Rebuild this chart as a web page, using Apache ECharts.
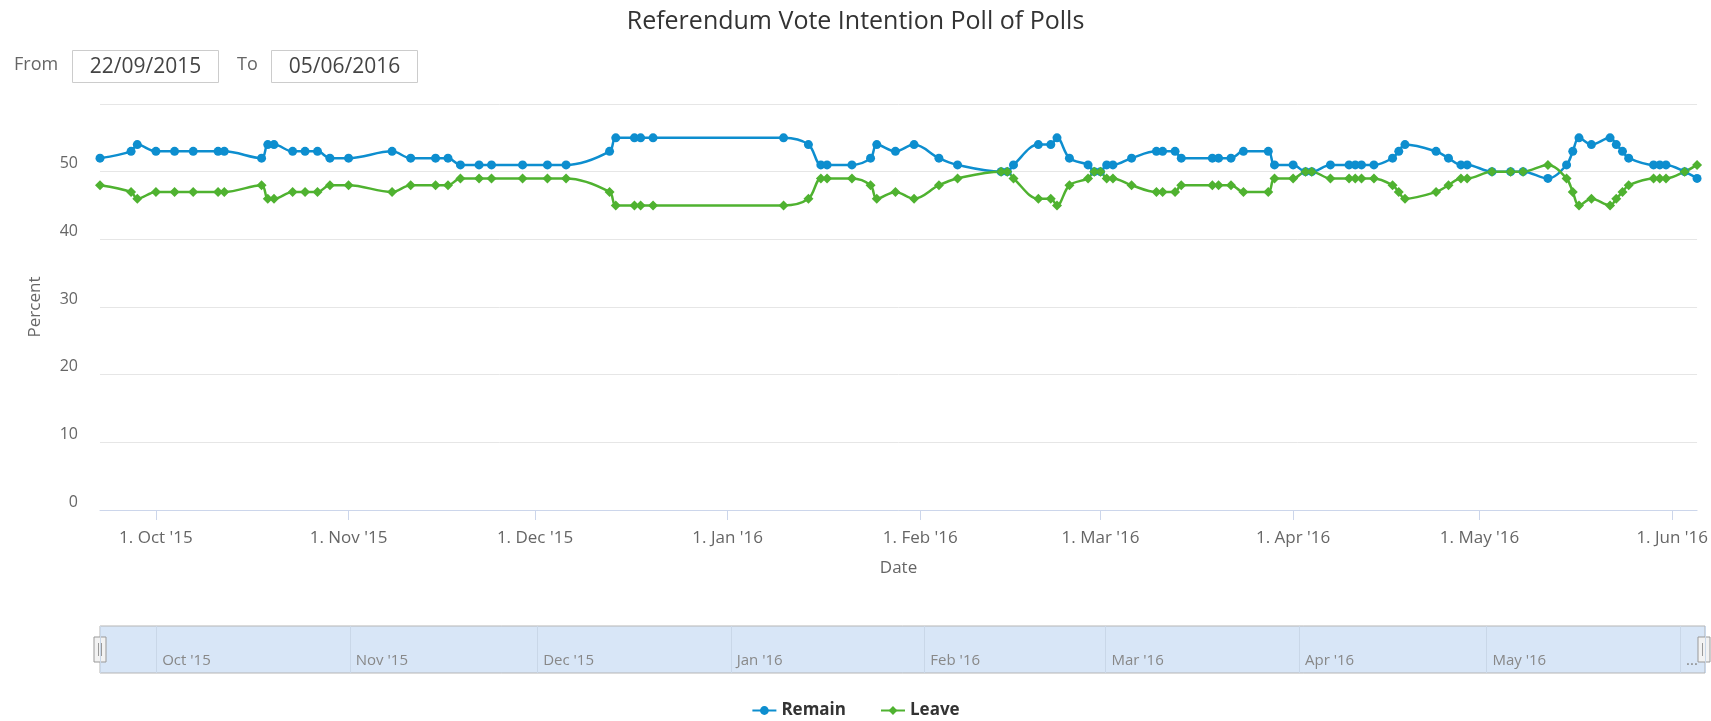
<!DOCTYPE html>
<html>
<head>
<meta charset="utf-8">
<title>Referendum Vote Intention Poll of Polls</title>
<script src="https://cdn.jsdelivr.net/npm/echarts@6.0.0/dist/echarts.min.js"></script>
<style>
  html, body { margin: 0; padding: 0; background: #fff; }
  #chart { width: 1711px; height: 721px; }
</style>
</head>
<body>
<div id="chart"></div>
<script>
// poll dates (one poll of polls reading per date)
const pollDates = [
  '2015-09-22', '2015-09-27', '2015-09-28', '2015-10-01', '2015-10-04', '2015-10-07',
  '2015-10-11', '2015-10-12', '2015-10-18', '2015-10-19', '2015-10-20', '2015-10-23',
  '2015-10-25', '2015-10-27', '2015-10-29', '2015-11-01', '2015-11-08', '2015-11-11',
  '2015-11-15', '2015-11-17', '2015-11-19', '2015-11-22', '2015-11-24', '2015-11-29',
  '2015-12-03', '2015-12-06', '2015-12-13', '2015-12-14', '2015-12-17', '2015-12-18',
  '2015-12-20', '2016-01-10', '2016-01-14', '2016-01-16', '2016-01-17', '2016-01-21',
  '2016-01-24', '2016-01-25', '2016-01-28', '2016-01-31', '2016-02-04', '2016-02-07',
  '2016-02-14', '2016-02-15', '2016-02-16', '2016-02-20', '2016-02-22', '2016-02-23',
  '2016-02-25', '2016-02-28', '2016-02-29', '2016-03-01', '2016-03-02', '2016-03-03',
  '2016-03-06', '2016-03-10', '2016-03-11', '2016-03-13', '2016-03-14', '2016-03-19',
  '2016-03-20', '2016-03-22', '2016-03-24', '2016-03-28', '2016-03-29', '2016-04-01',
  '2016-04-03', '2016-04-04', '2016-04-07', '2016-04-10', '2016-04-11', '2016-04-12',
  '2016-04-14', '2016-04-17', '2016-04-18', '2016-04-19', '2016-04-24', '2016-04-26',
  '2016-04-28', '2016-04-29', '2016-05-03', '2016-05-06', '2016-05-08', '2016-05-12',
  '2016-05-15', '2016-05-16', '2016-05-17', '2016-05-19', '2016-05-22', '2016-05-23',
  '2016-05-24', '2016-05-25', '2016-05-29', '2016-05-30', '2016-05-31', '2016-06-03',
  '2016-06-05'
];

const remain = [
  52, 53, 54, 53, 53, 53, 53, 53, 52, 54, 54, 53,
  53, 53, 52, 52, 53, 52, 52, 52, 51, 51, 51, 51,
  51, 51, 53, 55, 55, 55, 55, 55, 54, 51, 51, 51,
  52, 54, 53, 54, 52, 51, 50, 50, 51, 54, 54, 55,
  52, 51, 50, 50, 51, 51, 52, 53, 53, 53, 52, 52,
  52, 52, 53, 53, 51, 51, 50, 50, 51, 51, 51, 51,
  51, 52, 53, 54, 53, 52, 51, 51, 50, 50, 50, 49,
  51, 53, 55, 54, 55, 54, 53, 52, 51, 51, 51, 50,
  49
];

const leave = [
  48, 47, 46, 47, 47, 47, 47, 47, 48, 46, 46, 47,
  47, 47, 48, 48, 47, 48, 48, 48, 49, 49, 49, 49,
  49, 49, 47, 45, 45, 45, 45, 45, 46, 49, 49, 49,
  48, 46, 47, 46, 48, 49, 50, 50, 49, 46, 46, 45,
  48, 49, 50, 50, 49, 49, 48, 47, 47, 47, 48, 48,
  48, 48, 47, 47, 49, 49, 50, 50, 49, 49, 49, 49,
  49, 48, 47, 46, 47, 48, 49, 49, 50, 50, 50, 51,
  49, 47, 45, 46, 45, 46, 47, 48, 49, 49, 49, 50,
  51
];

// selected range and y axis ticks
const rangeStart = '2015-09-22';
const rangeEnd = '2016-06-05';
const yMin = 0;
const yMax = 60;
const yStep = 10;

const monthNames = ['Jan', 'Feb', 'Mar', 'Apr', 'May', 'Jun', 'Jul', 'Aug', 'Sep', 'Oct', 'Nov', 'Dec'];
const DAY = 24 * 3600 * 1000;
const FONT = '"Open Sans", "DejaVu Sans", sans-serif';

function toDmy(s) {
  const p = s.split('-');
  return p[2] + '/' + p[1] + '/' + p[0];
}

function yy(d) {
  return String(d.getFullYear()).slice(2);
}

// labels only on month starts, like "1. Oct '15"
function mainLabel(value) {
  const d = new Date(value);
  if (d.getDate() !== 1 || d.getHours() !== 0) return '';
  return '1. ' + monthNames[d.getMonth()] + " '" + yy(d);
}

const endTime = echarts.time.parse(rangeEnd).getTime();

function navLabel(value) {
  const d = new Date(value);
  if (d.getDate() !== 1 || d.getHours() !== 0) return '';
  // last month does not fit before the right edge
  if (endTime - value < 20 * DAY) return '...';
  return monthNames[d.getMonth()] + " '" + yy(d);
}

const remainData = pollDates.map((d, i) => [d, remain[i]]);
const leaveData = pollDates.map((d, i) => [d, leave[i]]);

const chart = echarts.init(document.getElementById('chart'));

const handle = x => ({
  type: 'group',
  children: [
    { type: 'rect', shape: { x: x, y: 637, width: 12, height: 25 },
      style: { fill: '#f2f2f2', stroke: '#999', lineWidth: 1 } },
    { type: 'line', shape: { x1: x + 4.5, y1: 643, x2: x + 4.5, y2: 656 },
      style: { stroke: '#999', lineWidth: 1 } },
    { type: 'line', shape: { x1: x + 7.5, y1: 643, x2: x + 7.5, y2: 656 },
      style: { stroke: '#999', lineWidth: 1 } }
  ]
});

const option = {
  animation: false,
  textStyle: { fontFamily: FONT },
  title: {
    text: 'Referendum Vote Intention Poll of Polls',
    left: 'center',
    top: 4,
    textStyle: { fontFamily: FONT, fontSize: 25, fontWeight: 'normal', color: '#333' }
  },
  legend: {
    data: ['Remain', 'Leave'],
    left: 'center',
    top: 697,
    itemWidth: 24,
    itemHeight: 11,
    itemGap: 34,
    textStyle: { fontFamily: FONT, fontSize: 17, fontWeight: 'bold', color: '#333' }
  },
  graphic: [
    { type: 'text', left: 14, top: 56,
      style: { text: 'From', font: '18px ' + FONT, fill: '#666' } },
    { type: 'rect', shape: { x: 72.5, y: 50.5, width: 146, height: 32 },
      style: { fill: '#fff', stroke: '#ccc', lineWidth: 1 } },
    { type: 'text', x: 145.5, y: 67,
      style: { text: toDmy(rangeStart), font: '21px ' + FONT, fill: '#444',
               align: 'center', verticalAlign: 'middle' } },
    { type: 'text', left: 237, top: 56,
      style: { text: 'To', font: '18px ' + FONT, fill: '#666' } },
    { type: 'rect', shape: { x: 271.5, y: 50.5, width: 146, height: 32 },
      style: { fill: '#fff', stroke: '#ccc', lineWidth: 1 } },
    { type: 'text', x: 344.5, y: 67,
      style: { text: toDmy(rangeEnd), font: '21px ' + FONT, fill: '#444',
               align: 'center', verticalAlign: 'middle' } },
    handle(94),
    handle(1698)
  ],
  grid: [
    { left: 100, right: 6, top: 104, bottom: 211 },
    { left: 100, right: 6, top: 626, height: 47, show: true,
      backgroundColor: '#d8e6f7', borderColor: '#b5b5b5', borderWidth: 1 }
  ],
  xAxis: [
    {
      type: 'time',
      gridIndex: 0,
      min: rangeStart,
      max: rangeEnd,
      minInterval: 28 * DAY,
      maxInterval: 31 * DAY,
      name: 'Date',
      nameLocation: 'middle',
      nameGap: 50,
      nameTextStyle: { fontFamily: FONT, fontSize: 17, color: '#666' },
      axisLine: { lineStyle: { color: '#ccd6eb', width: 1 } },
      axisTick: { length: 10, lineStyle: { color: '#ccd6eb' } },
      axisLabel: { formatter: mainLabel, color: '#666', fontSize: 17, margin: 20,
                   fontFamily: FONT, hideOverlap: false },
      splitLine: { show: false }
    },
    {
      type: 'time',
      gridIndex: 1,
      min: rangeStart,
      max: rangeEnd,
      minInterval: 28 * DAY,
      maxInterval: 31 * DAY,
      axisLine: { show: false },
      axisTick: { show: false },
      axisLabel: { inside: true, formatter: navLabel, align: 'left', color: '#888',
                   fontSize: 15, margin: 5, padding: [0, 0, 0, 6], fontFamily: FONT,
                   hideOverlap: false },
      splitLine: { show: true, lineStyle: { color: '#c9d7e8', width: 1 } }
    }
  ],
  yAxis: [
    {
      type: 'value',
      gridIndex: 0,
      min: yMin,
      max: yMax,
      interval: yStep,
      name: 'Percent',
      nameLocation: 'middle',
      nameRotate: 90,
      nameGap: 56,
      nameTextStyle: { fontFamily: FONT, fontSize: 17, color: '#666' },
      axisLine: { show: false },
      axisTick: { show: false },
      axisLabel: { color: '#666', fontSize: 16, margin: 22, verticalAlign: 'bottom',
                   showMaxLabel: false, fontFamily: FONT },
      splitLine: { lineStyle: { color: '#e6e6e6', width: 1 } }
    },
    { type: 'value', gridIndex: 1, min: 0, max: 1, show: false }
  ],
  series: [
    {
      name: 'Remain',
      type: 'line',
      xAxisIndex: 0,
      yAxisIndex: 0,
      data: remainData,
      smooth: 0.35,
      symbol: 'circle',
      symbolSize: 9,
      color: '#0d8ecf',
      lineStyle: { width: 2.5, color: '#0d8ecf' },
      itemStyle: { color: '#0d8ecf' }
    },
    {
      name: 'Leave',
      type: 'line',
      xAxisIndex: 0,
      yAxisIndex: 0,
      data: leaveData,
      smooth: 0.35,
      symbol: 'diamond',
      symbolSize: 10,
      color: '#4fb230',
      lineStyle: { width: 2.5, color: '#4fb230' },
      itemStyle: { color: '#4fb230' }
    },
    {
      type: 'line',
      xAxisIndex: 1,
      yAxisIndex: 1,
      data: [],
      silent: true
    }
  ]
};

chart.setOption(option);
</script>
</body>
</html>
